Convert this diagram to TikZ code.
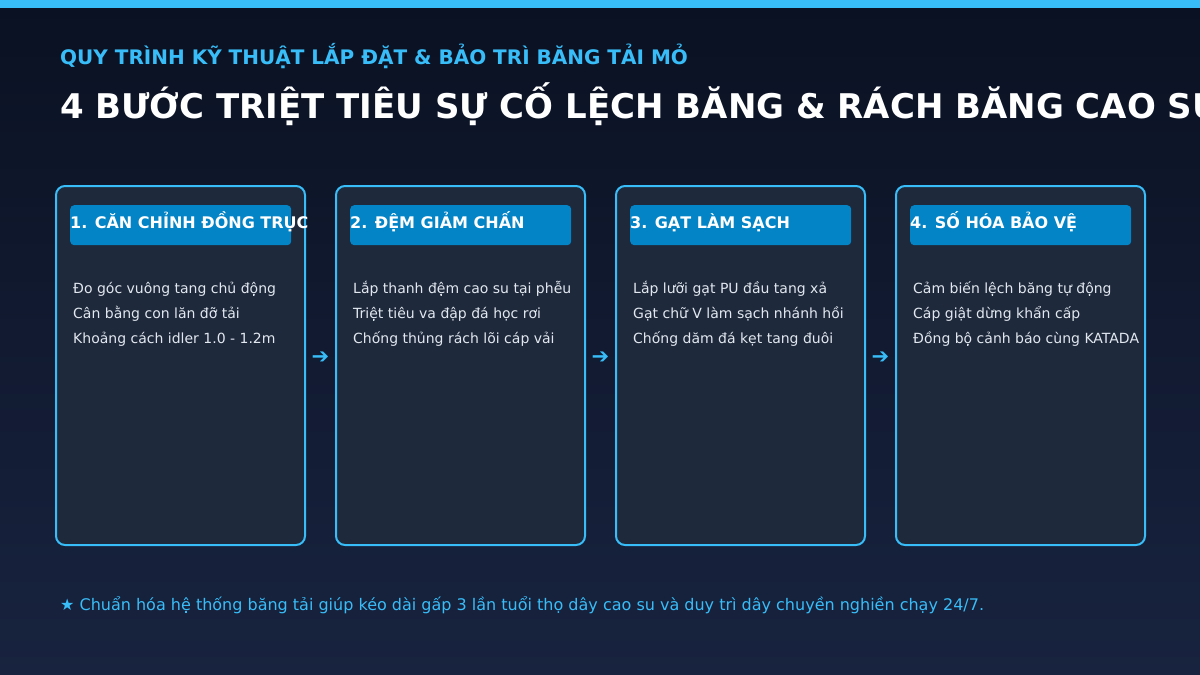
\documentclass[tikz,border=0pt]{standalone}
\usepackage{fontspec}
\setmainfont{DejaVu Sans}
\usetikzlibrary{positioning,calc}
\definecolor{skyline}{HTML}{38BDF8}
\definecolor{bgtop}{HTML}{0A1122}
\definecolor{bgbot}{HTML}{18233F}
\definecolor{cardfill}{HTML}{1E293B}
\definecolor{headfill}{HTML}{0284C7}
\definecolor{bodytext}{HTML}{E2E8F0}
\tikzset{
	stepcard/.style={draw=skyline, line width=2pt, fill=cardfill, rounded corners=9pt,
		minimum width=249pt, minimum height=359pt, inner sep=0pt, outer sep=0pt},
	headbar/.style={fill=headfill, rounded corners=4pt, minimum width=221pt,
		minimum height=40pt, inner sep=0pt, anchor=north west},
	headtext/.style={font=\fontsize{16}{19}\selectfont\bfseries, text=white, inner sep=0pt, anchor=base west},
	bodylines/.style={font=\fontsize{14}{25}\selectfont, text=bodytext, align=left, inner sep=0pt, anchor=base west},
	flowarrow/.style={font=\fontsize{21}{21}\selectfont, text=skyline, inner sep=0pt}
}
\newcommand{\stepone}{1. CĂN CHỈNH ĐỒNG TRỤC}
\newcommand{\steptwo}{2. ĐỆM GIẢM CHẤN}
\newcommand{\stepthree}{3. GẠT LÀM SẠCH}
\newcommand{\stepfour}{4. SỐ HÓA BẢO VỆ}
\begin{document}
\begin{tikzpicture}[x=1pt, y=-1pt]
	% frame and background
	\clip (0,0) rectangle (1200,675);
	\shade[top color=bgtop, bottom color=bgbot] (0,0) rectangle (1200,675);
	\fill[skyline] (0,0) rectangle (1200,8);

	% titles
	\node[anchor=base west, inner sep=0pt, text=skyline, font=\fontsize{20}{24}\selectfont\bfseries] (sub)
		at (60,64) {QUY TRÌNH KỸ THUẬT LẮP ĐẶT \& BẢO TRÌ BĂNG TẢI MỎ};
	\node[anchor=base west, inner sep=0pt, text=white, font=\fontsize{34}{40}\selectfont\bfseries] (title)
		at (60,118) {4 BƯỚC TRIỆT TIÊU SỰ CỐ LỆCH BĂNG \& RÁCH BĂNG CAO SU};

	% the four cards
	\node[stepcard, anchor=north west] (S1) at (56,186) {};
	\node[stepcard, right=31pt of S1] (S2) {};
	\node[stepcard, right=31pt of S2] (S3) {};
	\node[stepcard, right=31pt of S3] (S4) {};

	\foreach \s/\t in {1/\stepone, 2/\steptwo, 3/\stepthree, 4/\stepfour}{
		\node[headbar] (H\s) at ($(S\s.north west)+(14,19)$) {};
		\node[headtext] (T\s) at ($(H\s.north west)+(0,23)$) {\t};
	}

	% base of a three-line node is its last line
	\node[bodylines] (B1) at ($(S1.north west)+(17,157)$)
		{Đo góc vuông tang chủ động\\Cân bằng con lăn đỡ tải\\Khoảng cách idler 1.0 - 1.2m};
	\node[bodylines] (B2) at ($(S2.north west)+(17,157)$)
		{Lắp thanh đệm cao su tại phễu\\Triệt tiêu va đập đá học rơi\\Chống thủng rách lõi cáp vải};
	\node[bodylines] (B3) at ($(S3.north west)+(17,157)$)
		{Lắp lưỡi gạt PU đầu tang xả\\Gạt chữ V làm sạch nhánh hồi\\Chống dăm đá kẹt tang đuôi};
	\node[bodylines] (B4) at ($(S4.north west)+(17,157)$)
		{Cảm biến lệch băng tự động\\Cáp giật dừng khẩn cấp\\Đồng bộ cảnh báo cùng KATADA};

	% arrows between cards
	\node[flowarrow] (A1) at ($(S1.north east)!0.5!(S2.north west)+(0,172)$) {➔};
	\node[flowarrow] (A2) at ($(S2.north east)!0.5!(S3.north west)+(0,172)$) {➔};
	\node[flowarrow] (A3) at ($(S3.north east)!0.5!(S4.north west)+(0,172)$) {➔};

	% footer
	\node[anchor=base west, inner sep=0pt, text=skyline, font=\fontsize{16}{20}\selectfont] (note)
		at (60,610) {★ Chuẩn hóa hệ thống băng tải giúp kéo dài gấp 3 lần tuổi thọ dây cao su và duy trì dây chuyền nghiền chạy 24/7.};
\end{tikzpicture}
\end{document}
